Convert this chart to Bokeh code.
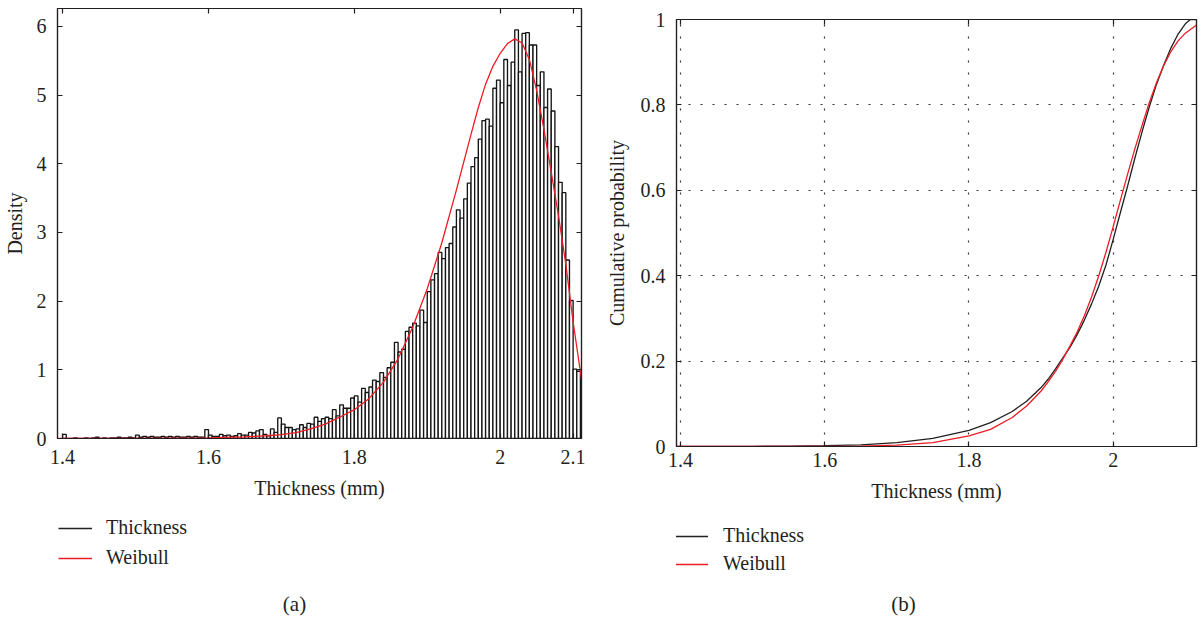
from bokeh.plotting import figure
from bokeh.models import (Range1d, LinearAxis, FixedTicker, Legend, LegendItem, Label,
                          CustomJSTickFormatter)
from bokeh.layouts import row, column
from bokeh.embed import file_html
from bokeh.resources import INLINE

FONT = "Liberation Serif"
TXT = "#231f20"
RED = "#ed1c24"
FS = "20px"

# ---------------- data ----------------
bin_start = 1.4
bin_width = 0.005
density = [
    0.06, 0.0, 0.0, 0.01, 0.0, 0.0, 0.01, 0.0,                      # 0-7
    0.01, 0.02, 0.0, 0.01, 0.0, 0.01, 0.01,                         # 8-14
    0.02, 0.01, 0.01, 0.02, 0.01,                                   # 15-19
    0.05, 0.02, 0.03, 0.02, 0.03, 0.02, 0.02, 0.03, 0.02, 0.03,     # 20-29
    0.02, 0.03, 0.02, 0.02, 0.03, 0.02, 0.03, 0.02, 0.02,           # 30-38
    0.13, 0.05, 0.03, 0.03, 0.06, 0.04, 0.05, 0.03, 0.04, 0.07,     # 39-48
    0.05, 0.05, 0.09, 0.08, 0.11, 0.13, 0.06, 0.04, 0.14, 0.09,     # 49-58
    0.30, 0.21, 0.16, 0.16, 0.13, 0.14, 0.20, 0.16, 0.22, 0.21,     # 59-68
    0.31, 0.25, 0.29, 0.31, 0.29, 0.42, 0.33, 0.49, 0.44, 0.44,     # 69-78
    0.59, 0.62, 0.53, 0.73, 0.67, 0.75, 0.85, 0.83, 0.96, 0.89,     # 79-88
    1.03, 1.11, 1.40, 1.26, 1.30, 1.56, 1.62, 1.68, 1.64, 1.87,     # 89-98
    1.69, 2.14, 2.31, 2.40, 2.71, 2.62, 2.78, 2.84, 3.08, 3.33,     # 99-108
    3.21, 3.49, 3.72, 3.96, 4.09, 4.36, 4.63, 4.65, 4.55,           # 109-117
    5.10, 5.22, 4.89, 5.52, 5.14, 5.48, 5.95, 5.34, 5.90, 5.91,     # 118-127
    5.73, 5.73, 5.14, 5.34, 4.82, 5.09, 4.77, 4.25, 3.73, 3.58,     # 128-137
    2.60, 2.01, 1.01, 0.98,                                         # 138-141
]

weibull_pdf_x = [1.393, 1.45, 1.50, 1.55, 1.60, 1.65, 1.68, 1.70, 1.72, 1.74, 1.76, 1.78,
                 1.80, 1.82, 1.84, 1.86, 1.88, 1.90, 1.92, 1.94, 1.96, 1.97, 1.98, 1.99,
                 2.00, 2.01, 2.02, 2.03, 2.04, 2.05, 2.06, 2.07, 2.08, 2.09, 2.10, 2.1115]
weibull_pdf_y = [0.0, 0.0, 0.002, 0.005, 0.01, 0.025, 0.04, 0.055, 0.085, 0.14, 0.21, 0.31,
                 0.42, 0.58, 0.82, 1.16, 1.62, 2.18, 2.85, 3.62, 4.43, 4.82, 5.16, 5.42,
                 5.61, 5.75, 5.82, 5.76, 5.52, 5.07, 4.50, 3.88, 3.24, 2.54, 1.70, 0.86]

emp_cdf_x = [1.3945, 1.45, 1.50, 1.55, 1.60, 1.65, 1.70, 1.75, 1.80, 1.83, 1.86, 1.88,
             1.90, 1.91, 1.92, 1.93, 1.94, 1.95, 1.96, 1.97, 1.98, 1.99, 2.00, 2.01,
             2.02, 2.03, 2.04, 2.05, 2.06, 2.07, 2.08, 2.09, 2.10, 2.107, 2.1155]
emp_cdf_y = [0.0, 0.0002, 0.0005, 0.001, 0.002, 0.004, 0.009, 0.019, 0.038, 0.056, 0.082, 0.106,
             0.138, 0.158, 0.182, 0.207, 0.232, 0.262, 0.296, 0.334, 0.376, 0.425, 0.485, 0.548,
             0.610, 0.675, 0.737, 0.795, 0.848, 0.893, 0.933, 0.966, 0.990, 1.0, 1.0]

wb_cdf_x = [1.3945, 1.50, 1.60, 1.65, 1.70, 1.75, 1.80, 1.83, 1.86, 1.88, 1.90, 1.91,
            1.92, 1.93, 1.94, 1.95, 1.96, 1.97, 1.98, 1.99, 2.00, 2.01, 2.02, 2.03,
            2.04, 2.05, 2.06, 2.07, 2.08, 2.09, 2.10, 2.1155]
wb_cdf_y = [0.0, 0.0, 0.0005, 0.001, 0.003, 0.009, 0.025, 0.040, 0.068, 0.095, 0.130, 0.152,
            0.176, 0.204, 0.235, 0.268, 0.306, 0.350, 0.400, 0.455, 0.515, 0.577, 0.638, 0.697,
            0.752, 0.805, 0.852, 0.892, 0.925, 0.950, 0.968, 0.987]

left_xticks = [1.4, 1.6, 1.8, 2.0, 2.1]
left_yticks = [0, 1, 2, 3, 4, 5, 6]
right_xticks = [1.4, 1.6, 1.8, 2.0]
right_yticks = [0, 0.2, 0.4, 0.6, 0.8, 1.0]
series_names = ["Thickness", "Weibull"]

lefts = [bin_start + i * bin_width for i in range(len(density))]
rights = [l + bin_width for l in lefts]

fmt_num = CustomJSTickFormatter(code="return String(Math.round(tick*10)/10);")
fmt_none = CustomJSTickFormatter(code="return '';")


def style_axis(ax, ticks, show_labels, standoff=10):
    ax.ticker = FixedTicker(ticks=ticks)
    ax.formatter = fmt_num if show_labels else fmt_none
    ax.major_tick_in = 5
    ax.major_tick_out = 0
    ax.minor_tick_in = 0
    ax.minor_tick_out = 0
    ax.axis_line_color = TXT
    ax.axis_line_width = 1.2
    ax.major_tick_line_color = TXT
    ax.major_tick_line_width = 1.2
    ax.major_label_text_font = FONT
    ax.major_label_text_font_size = FS if show_labels else "1px"
    ax.major_label_text_color = TXT
    ax.major_label_standoff = standoff if show_labels else 0
    ax.axis_label_text_font = FONT
    ax.axis_label_text_font_size = FS
    ax.axis_label_text_font_style = "normal"
    ax.axis_label_text_color = TXT


def legend_panel(loc, spacing, standoff, cap_text, cap_x, cap_y):
    # frame of this panel is aligned with the frame of the plot above it
    lf = figure(width=600, height=109, x_range=Range1d(0, 1), y_range=Range1d(0, 1),
                output_backend="svg", toolbar_location=None, min_border=0,
                x_axis_location=None, y_axis_location=None)
    lf.outline_line_color = None
    lf.xgrid.visible = False
    lf.ygrid.visible = False
    # legend-only renderers, placed outside the visible range
    r1 = lf.line(x=[-5, -4], y=[-5, -5], color=TXT, line_width=1.3)
    r2 = lf.line(x=[-5, -4], y=[-5, -5], color=RED, line_width=1.3)
    lf.add_layout(Legend(items=[LegendItem(label=series_names[0], renderers=[r1]),
                                LegendItem(label=series_names[1], renderers=[r2])],
                         location=loc, orientation="vertical", glyph_width=34, glyph_height=20,
                         label_height=20, spacing=spacing, padding=0, margin=0,
                         label_standoff=standoff, border_line_color=None,
                         background_fill_alpha=0, label_text_font=FONT,
                         label_text_font_size=FS, label_text_color=TXT))
    lf.add_layout(Label(x=cap_x, y=cap_y, x_units="screen", y_units="screen", text=cap_text,
                        text_align="center", text_baseline="middle", text_font=FONT,
                        text_font_size="21px", text_color=TXT))
    return lf


# ---------------- panel (a) ----------------
p1 = figure(width=600, height=510, x_range=Range1d(1.393, 2.1115), y_range=Range1d(0, 6.262),
            output_backend="svg", toolbar_location=None,
            min_border_left=57, min_border_right=19, min_border_top=8, min_border_bottom=72)
p1.xgrid.visible = False
p1.ygrid.visible = False
p1.outline_line_color = TXT
p1.outline_line_width = 1.2
p1.background_fill_color = "white"

style_axis(p1.xaxis[0], left_xticks, True, 11)
style_axis(p1.yaxis[0], left_yticks, True, 11)
p1.xaxis[0].axis_label = "Thickness (mm)"
p1.xaxis[0].axis_label_standoff = 10
p1.yaxis[0].axis_label = "Density"
p1.yaxis[0].axis_label_standoff = 8
top1 = LinearAxis()
right1 = LinearAxis()
style_axis(top1, left_xticks, False)
style_axis(right1, left_yticks, False)
p1.add_layout(top1, "above")
p1.add_layout(right1, "right")

p1.quad(left=lefts, right=rights, bottom=0, top=density, fill_color="white",
        line_color="#151515", line_width=1.35)
p1.line(weibull_pdf_x, weibull_pdf_y, color=RED, line_width=1.3)

leg1 = legend_panel((1, 50), 7, 14, "(a)", 237, 16)

# ---------------- panel (b) ----------------
p2 = figure(width=601, height=510, x_range=Range1d(1.3945, 2.1155), y_range=Range1d(0, 1),
            output_backend="svg", toolbar_location=None,
            min_border_left=76, min_border_right=5, min_border_top=19, min_border_bottom=64)
p2.outline_line_color = TXT
p2.outline_line_width = 1.2
p2.background_fill_color = "white"
p2.xgrid.ticker = FixedTicker(ticks=right_xticks)
p2.ygrid.ticker = FixedTicker(ticks=right_yticks)
for g in (p2.xgrid[0], p2.ygrid[0]):
    g.grid_line_color = "#333333"
    g.grid_line_dash = "2 10"
    g.grid_line_width = 1.2

style_axis(p2.xaxis[0], right_xticks, True, 6)
style_axis(p2.yaxis[0], right_yticks, True, 11)
p2.xaxis[0].axis_label = "Thickness (mm)"
p2.xaxis[0].axis_label_standoff = 10
p2.yaxis[0].axis_label = "Cumulative probability"
p2.yaxis[0].axis_label_standoff = 10
top2 = LinearAxis()
right2 = LinearAxis()
style_axis(top2, right_xticks, False)
style_axis(right2, right_yticks, False)
p2.add_layout(top2, "above")
p2.add_layout(right2, "right")

p2.line(emp_cdf_x, emp_cdf_y, color=TXT, line_width=1.3)
p2.line(wb_cdf_x, wb_cdf_y, color=RED, line_width=1.3)

leg2 = legend_panel((-2, 44), 5, 15, "(b)", 227, 16)

layout = row(column(p1, leg1), column(p2, leg2))
open("out.html", "w").write(file_html(layout, INLINE))
